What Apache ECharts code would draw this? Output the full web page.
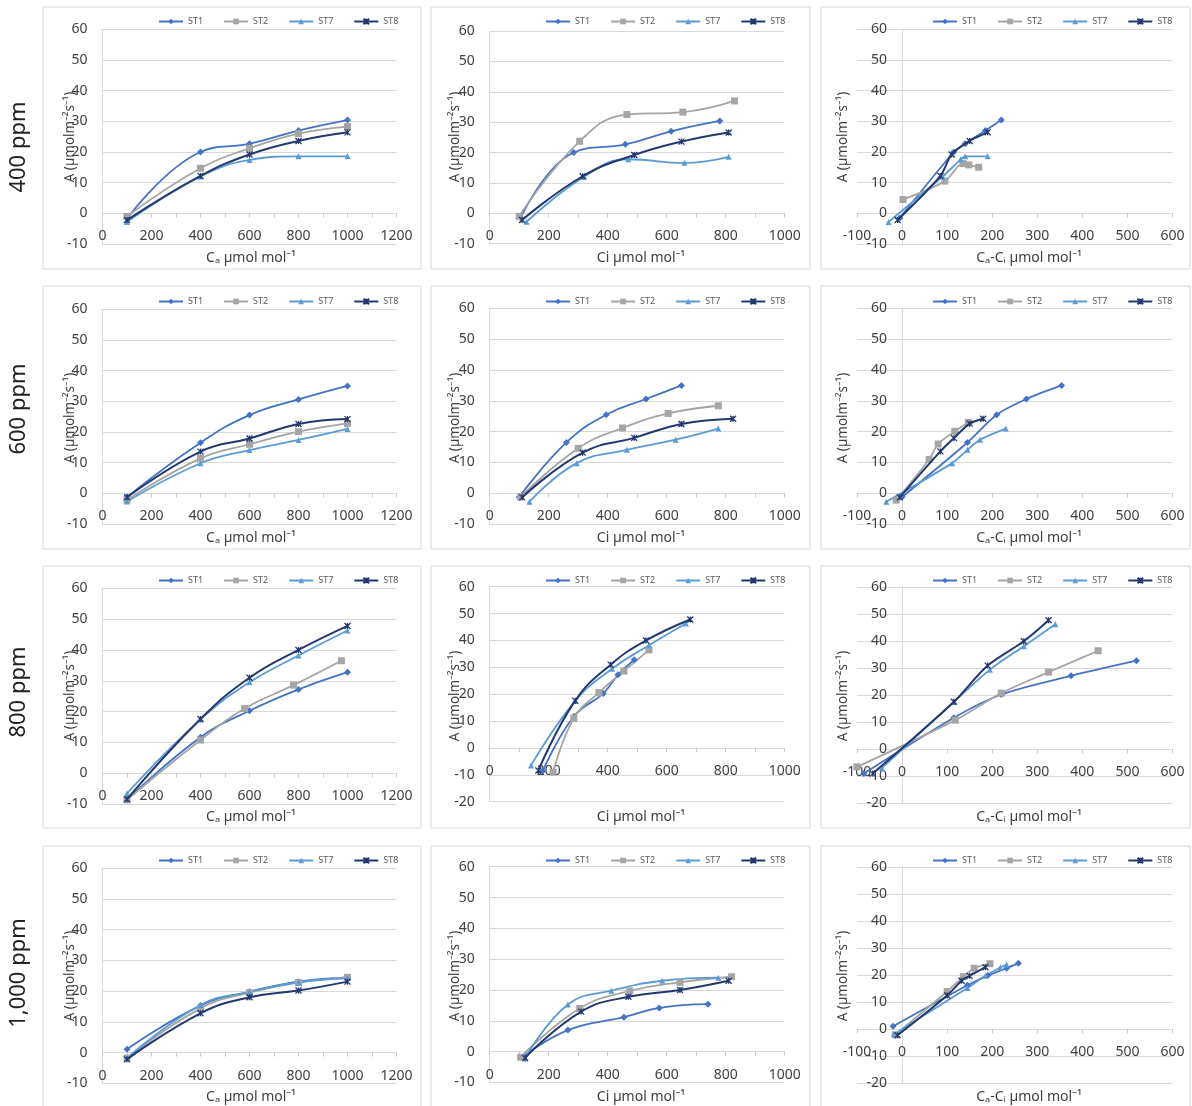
<!DOCTYPE html>
<html><head><meta charset="utf-8">
<script src="https://cdn.jsdelivr.net/npm/echarts@6/dist/echarts.min.js"></script>
<style>html,body{margin:0;padding:0;background:#fff}#c{width:1192px;height:1106px}</style>
</head><body><div id="c"></div>
<script>
// ---------------- DATA ----------------
const seriesNames = ['ST1', 'ST2', 'ST7', 'ST8'];
const rowLabels = ['400 ppm', '600 ppm', '800 ppm', '1,000 ppm'];
const xTitles = ['Cₐ µmol mol⁻¹', 'Ci µmol mol⁻¹', 'Cₐ-Cᵢ µmol mol⁻¹'];
const yTitle = 'A (µmolm⁻²s⁻¹)';
const xTicks = [[0, 1200, 200], [0, 1000, 200], [-100, 600, 100]];
const yTicks = [[-10, -10, -10], [-10, -10, -10], [-10, -20, -20], [-10, -10, -20]];

const ca = [100, 400, 600, 800, 1000];
const ca800_ST2 = [100, 400, 580, 780, 975];

// 400 ppm
const a400_ST1 = [-1.8, 20, 22.7, 27, 30.4];
const a400_ST2 = [-1, 14.7, 21.2, 26, 28.3];
const a400_ST7 = [-2.8, 12, 17.4, 18.6, 18.6];
const a400_ST8 = [-2.2, 12.2, 19.2, 23.6, 26.4];
const ci400_ST1 = [[105, -1.5], [285, 20], [460, 22.7], [615, 27], [780, 30.4]];
const ci400_ST2 = [[100, -1], [305, 23.7], [465, 32.5], [655, 33.3], [830, 37]];
const ci400_ST7 = [[125, -2.8], [320, 12], [470, 17.8], [660, 16.6], [810, 18.6]];
const ci400_ST8 = [[110, -2.2], [315, 12.2], [490, 19.2], [650, 23.6], [810, 26.6]];
const d400_ST1 = [[-5, -1.5], [115, 20], [140, 22.7], [185, 27], [220, 30.4]];
const d400_ST2 = [[2, 4.5], [95, 10.5], [135, 16.2], [148, 15.8], [170, 15]];
const d400_ST7 = [[-30, -2.8], [90, 12], [130, 17.6], [140, 18.6], [190, 18.6]];
const d400_ST8 = [[-10, -2.2], [85, 12.2], [110, 19.2], [150, 23.6], [190, 26.4]];

// 600 ppm
const a600_ST1 = [-1.2, 16.5, 25.5, 30.6, 35];
const a600_ST2 = [-2.2, 11.4, 16, 20.1, 22.8];
const a600_ST7 = [-2.7, 9.8, 14.1, 17.4, 21];
const a600_ST8 = [-1.3, 13.6, 17.9, 22.6, 24.2];
const ci600_ST1 = [[100, -1.2], [260, 16.5], [395, 25.5], [530, 30.6], [650, 35]];
const ci600_ST2 = [[105, -1.2], [300, 14.6], [450, 21.2], [605, 25.9], [775, 28.4]];
const ci600_ST7 = [[135, -2.7], [295, 9.8], [465, 14.1], [630, 17.4], [775, 21]];
const ci600_ST8 = [[110, -1.3], [315, 13.2], [490, 18], [650, 22.5], [825, 24.2]];
const d600_ST1 = [[0, -1.2], [145, 16.5], [210, 25.5], [276, 30.6], [354, 35]];
const d600_ST2 = [[-13, -2.2], [60, 11], [80, 16], [117, 20.1], [147, 23]];
const d600_ST7 = [[-35, -2.7], [111, 9.8], [145, 14.1], [173, 17.4], [230, 21]];
const d600_ST8 = [[-5, -1.3], [85, 13.6], [115, 17.9], [150, 22.6], [180, 24.2]];

// 800 ppm
const a800_ST1 = [-8.6, 11.7, 20.3, 27.2, 32.8];
const a800_ST2 = [-8.6, 10.8, 21, 28.6, 36.5];
const a800_ST7 = [-6.5, 17.5, 29.5, 38.2, 46.3];
const a800_ST8 = [-8.4, 17.6, 31, 40, 47.8];
const ci800_ST1 = [[180, -8.6], [285, 11.7], [385, 20.3], [435, 27.2], [490, 32.8]];
const ci800_ST2 = [[215, -9], [285, 11], [370, 20.6], [455, 28.6], [540, 36.5]];
const ci800_ST7 = [[140, -6.5], [290, 17.5], [415, 29.5], [540, 38.2], [665, 46.3]];
const ci800_ST8 = [[165, -8.4], [290, 17.6], [410, 31], [530, 40], [680, 47.8]];
const d800_ST1 = [[-85, -9], [115, 11.7], [220, 20.3], [375, 27.2], [520, 32.8]];
const d800_ST2 = [[-100, -6.5], [118, 10.8], [220, 20.8], [325, 28.6], [435, 36.5]];
const d800_ST7 = [[-45, -7], [115, 17.5], [195, 29.5], [270, 38.2], [340, 46.3]];
const d800_ST8 = [[-65, -9], [115, 17.6], [190, 31], [270, 40], [325, 47.8]];

// 1,000 ppm
const a1000_ST1 = [1.1, 15.3, 19.8, 23.1, 24.5];
const a1000_ST2 = [-1.8, 14.4, 19.5, 22.8, 24.5];
const a1000_ST7 = [-1.8, 15.5, 19.8, 22.9, 24.2];
const a1000_ST8 = [-2.2, 12.8, 18, 20.2, 23.1];
const ci1000_ST1 = [[110, -1.8], [265, 7], [455, 11.2], [575, 14.2], [740, 15.4]];
const ci1000_ST2 = [[105, -1.8], [305, 14], [475, 19.7], [645, 22.5], [820, 24.3]];
const ci1000_ST7 = [[120, -2.2], [265, 15.3], [412, 19.8], [585, 23], [775, 24]];
const ci1000_ST8 = [[120, -2], [310, 13], [470, 17.8], [645, 20], [810, 23]];
const d1000_ST1 = [[-20, 1.1], [145, 16.3], [190, 19.9], [232, 22.6], [258, 24.5]];
const d1000_ST2 = [[-15, -2], [100, 14], [136, 19.5], [160, 22.6], [195, 24.3]];
const d1000_ST7 = [[-18, -1.8], [145, 15.3], [185, 19.8], [218, 22.9], [232, 24]];
const d1000_ST8 = [[-10, -2.2], [100, 12.5], [132, 18], [150, 19.8], [185, 23]];

// ---------------- BUILD ----------------
const zip = (xs, ys) => xs.map((x, i) => [x, ys[i]]);
const panelData = [
  [[zip(ca, a400_ST1), zip(ca, a400_ST2), zip(ca, a400_ST7), zip(ca, a400_ST8)],
   [ci400_ST1, ci400_ST2, ci400_ST7, ci400_ST8],
   [d400_ST1, d400_ST2, d400_ST7, d400_ST8]],
  [[zip(ca, a600_ST1), zip(ca, a600_ST2), zip(ca, a600_ST7), zip(ca, a600_ST8)],
   [ci600_ST1, ci600_ST2, ci600_ST7, ci600_ST8],
   [d600_ST1, d600_ST2, d600_ST7, d600_ST8]],
  [[zip(ca, a800_ST1), zip(ca800_ST2, a800_ST2), zip(ca, a800_ST7), zip(ca, a800_ST8)],
   [ci800_ST1, ci800_ST2, ci800_ST7, ci800_ST8],
   [d800_ST1, d800_ST2, d800_ST7, d800_ST8]],
  [[zip(ca, a1000_ST1), zip(ca, a1000_ST2), zip(ca, a1000_ST7), zip(ca, a1000_ST8)],
   [ci1000_ST1, ci1000_ST2, ci1000_ST7, ci1000_ST8],
   [d1000_ST1, d1000_ST2, d1000_ST7, d1000_ST8]]
];

const FONT = "'Noto Sans','DejaVu Sans',sans-serif";
const colors = ['#4472C4', '#A5A5A5', '#5B9BD5', '#23386E'];
const symbols = ['diamond', 'rect', 'triangle', 'path://M0,0L10,10M10,0L0,10M5,0L5,10'];
const symSizes = [7, 7, 6, 6];

const colGeom = [{ left: 102.5, width: 294 }, { left: 489.7, width: 295 }, { left: 857, width: 315.5 }];
const gridY = [
  [[29.3, 214.7], [31, 212.7], [29.3, 214.7]],
  [[309.3, 214.7], [308.3, 215.9], [308.3, 215.9]],
  [[588.3, 215.9], [586.7, 215], [587.3, 216]],
  [[868.3, 215], [866.7, 215.8], [867.3, 216]]
];
const colBox = [[43, 421], [431, 810], [821, 1190]];
const rowBox = [[7, 269], [286, 549], [566, 828], [846, 1112]];
const legendLeft = [153, 540, 927];
const legendTop = [12, 292, 571, 851];
const xTitleX = [251, 641, 1029];
const xTitleY = [258, 538, 817, 1097];
const yTitleX = [70, 455, 843];
const yTitleY = [137, 418, 696, 976];
const rowLabelY = [147, 409, 692, 973];

const grid = [], xAxis = [], yAxis = [], series = [], legend = [], graphic = [];
let idx = 0;
for (let r = 0; r < 4; r++) {
  for (let c = 0; c < 3; c++) {
    const [top, height] = gridY[r][c];
    const width = colGeom[c].width;
    const xmin = xTicks[c][0], xmax = xTicks[c][1];
    const ymin = yTicks[r][c], ymax = 60;
    // move the axes so that they cross at zero (as in the original)
    const xOffset = -height * (0 - ymin) / (ymax - ymin);
    const yOffset = -width * (0 - xmin) / (xmax - xmin);
    grid.push({ left: colGeom[c].left, top: top, width: width, height: height, containLabel: false });
    xAxis.push({
      type: 'value', gridIndex: idx, position: 'bottom', offset: xOffset,
      min: xmin, max: xmax, interval: xTicks[c][2],
      axisLine: { show: true, onZero: false, lineStyle: { color: '#D9D9D9', width: 1 } },
      axisTick: { show: true, length: 4, lineStyle: { color: '#C8C8C8' } },
      minorTick: { show: c < 2, splitNumber: 2, length: 4, lineStyle: { color: '#C8C8C8' } },
      splitLine: { show: false },
      axisLabel: { fontSize: 14, color: '#404040', margin: 16, fontFamily: FONT, formatter: v => String(v) }
    });
    yAxis.push({
      type: 'value', gridIndex: idx, position: 'left', offset: yOffset,
      min: ymin, max: ymax, interval: 10,
      axisLine: { show: true, onZero: false, lineStyle: { color: '#D9D9D9', width: 1 } },
      axisTick: { show: false },
      splitLine: { show: true, lineStyle: { color: '#D9D9D9', width: 1 } },
      axisLabel: { fontSize: 14, color: '#404040', margin: 15, fontFamily: FONT, formatter: v => String(v) }
    });
    for (let s = 0; s < 4; s++) {
      series.push({
        type: 'line', name: seriesNames[s], xAxisIndex: idx, yAxisIndex: idx,
        data: panelData[r][c][s],
        smooth: c === 2 ? 0.3 : 0.45,
        symbol: symbols[s], symbolSize: symSizes[s], showSymbol: true,
        lineStyle: { color: colors[s], width: s === 3 ? 2 : 1.8 },
        itemStyle: s === 3 ? { color: colors[s], borderColor: colors[s], borderWidth: 1.3 } : { color: colors[s] },
        emphasis: { disabled: true },
        z: s === 3 ? 4 : 3
      });
    }
    legend.push({
      left: legendLeft[c], top: legendTop[r], orient: 'horizontal',
      itemWidth: 24, itemHeight: 7, itemGap: 20,
      textStyle: { fontSize: 9, color: '#595959', fontFamily: FONT },
      data: seriesNames.slice(), selectedMode: false
    });
    graphic.push({
      type: 'rect', silent: true, z: -1,
      shape: { x: colBox[c][0], y: rowBox[r][0], width: colBox[c][1] - colBox[c][0], height: rowBox[r][1] - rowBox[r][0] },
      style: { fill: 'none', stroke: '#D9D9D9', lineWidth: 1 }
    });
    graphic.push({
      type: 'text', silent: true, x: xTitleX[c], y: xTitleY[r],
      style: { text: xTitles[c], font: '14px ' + FONT, fill: '#404040', textAlign: 'center', textVerticalAlign: 'middle' }
    });
    graphic.push({
      type: 'text', silent: true, x: yTitleX[c], y: yTitleY[r], rotation: Math.PI / 2,
      style: { text: yTitle, font: '13.5px ' + FONT, fill: '#404040', textAlign: 'center', textVerticalAlign: 'middle' }
    });
    idx++;
  }
  graphic.push({
    type: 'text', silent: true, x: 19, y: rowLabelY[r], rotation: Math.PI / 2,
    style: { text: rowLabels[r], font: '22px ' + FONT, fill: '#222222', textAlign: 'center', textVerticalAlign: 'middle' }
  });
}

const chart = echarts.init(document.getElementById('c'), null, { renderer: 'canvas' });
chart.setOption({
  animation: false,
  backgroundColor: '#ffffff',
  grid, xAxis, yAxis, series, legend, graphic
});
</script>
</body></html>
